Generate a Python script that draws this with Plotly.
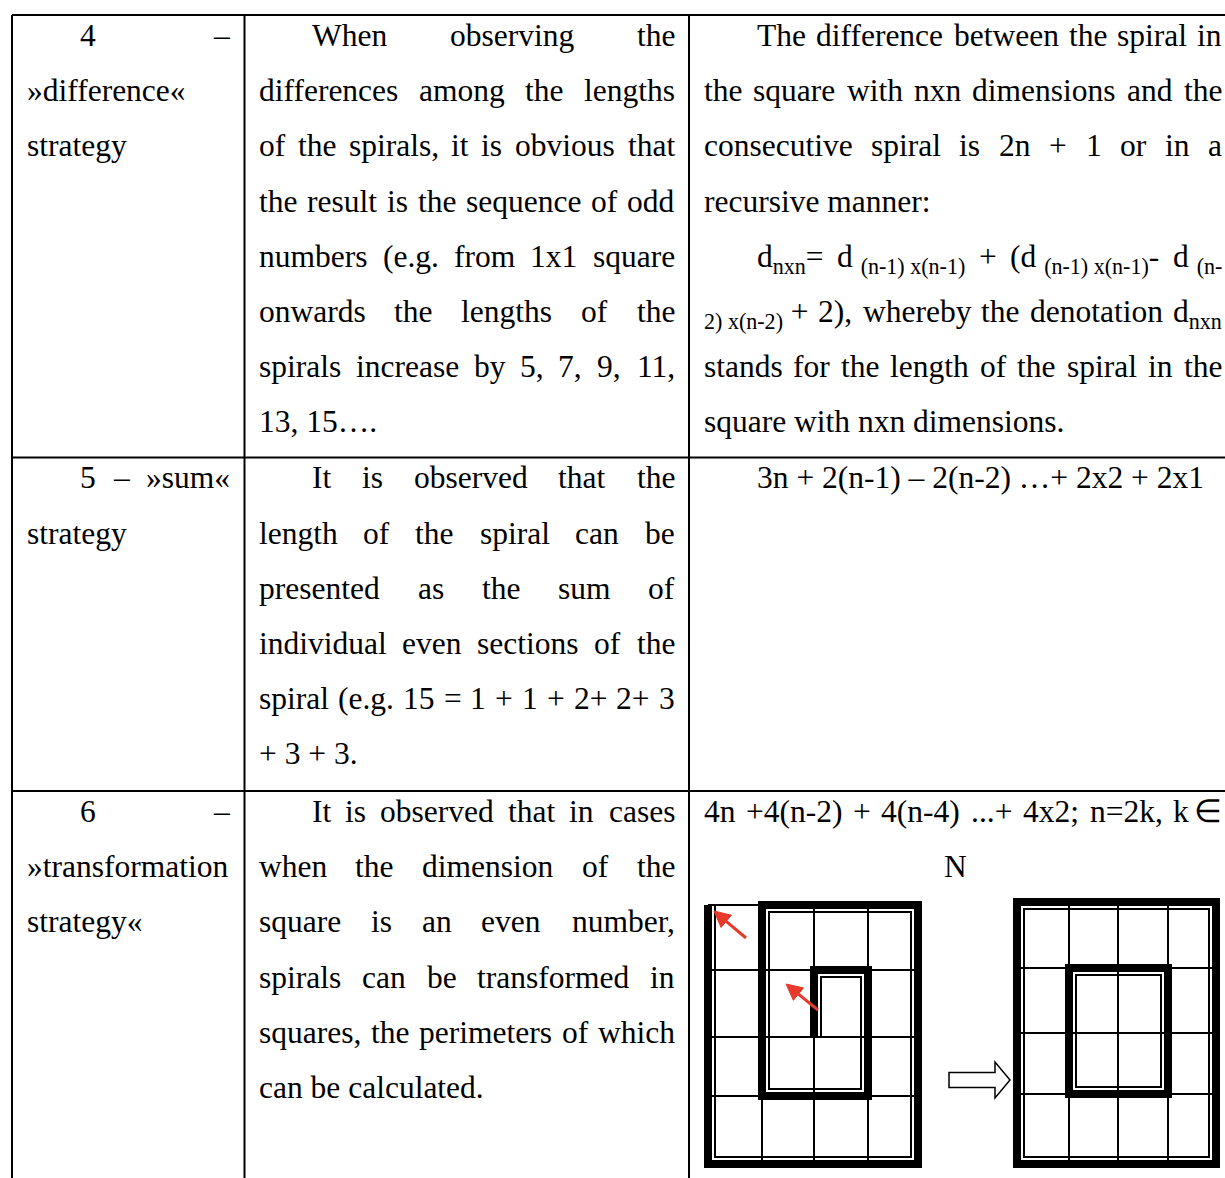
import math
import re
import plotly.graph_objects as go

FONT = "Liberation Serif"
FS = 31.5

# table geometry (page pixels)
COL_X = [12, 244.5, 689, 1236.5]
ROW_Y = [15, 457.5, 791, 1240]
PAD = 14.5
INDENT = 53
FIRST_BASE = 31
LINE_STEP = 55.2

# cell texts: one list of paragraphs per cell, each paragraph a list of lines
ROW1_C1 = [["4 –", "»difference«", "strategy"]]
ROW1_C2 = [[
    "When observing the",
    "differences among the lengths",
    "of the spirals, it is obvious that",
    "the result is the sequence of odd",
    "numbers (e.g. from 1x1 square",
    "onwards the lengths of the",
    "spirals increase by 5, 7, 9, 11,",
    "13, 15….",
]]
ROW1_C3 = [
    [
        "The difference between the spiral in",
        "the square with nxn dimensions and the",
        "consecutive spiral is 2n + 1 or in a",
        "recursive manner:",
    ],
    [
        "d<sub>nxn</sub>= d\u00a0<sub>(n-1) x(n-1)</sub> + (d\u00a0<sub>(n-1) x(n-1)</sub>- d\u00a0<sub>(n-</sub>",
        "<sub>2) x(n-2)</sub>\u00a0+ 2), whereby the denotation d<sub>nxn</sub>",
        "stands for the length of the spiral in the",
        "square with nxn dimensions.",
    ],
]
ROW2_C1 = [["5 – »sum«", "strategy"]]
ROW2_C2 = [[
    "It is observed that the",
    "length of the spiral can be",
    "presented as the sum of",
    "individual even sections of the",
    "spiral (e.g. 15 = 1 + 1 + 2+ 2+ 3",
    "+ 3 + 3.",
]]
ROW2_C3 = [["3n + 2(n-1) – 2(n-2) …+ 2x2 + 2x1"]]
ROW3_C1 = [["6 –", "»transformation", "strategy«"]]
ROW3_C2 = [[
    "It is observed that in cases",
    "when the dimension of the",
    "square is an even number,",
    "spirals can be transformed in",
    "squares, the perimeters of which",
    "can be calculated.",
]]
ROW3_C3 = [["4n +4(n-2) + 4(n-4) ...+ 4x2; n=2k, k ∈", "N"]]

CELLS = [
    [ROW1_C1, ROW1_C2, ROW1_C3],
    [ROW2_C1, ROW2_C2, ROW2_C3],
    [ROW3_C1, ROW3_C2, ROW3_C3],
]

# diagrams: 4x4 grids, grid line positions in pixels
D1_COLS = [708, 762, 814, 868, 918]
D1_ROWS = [905, 970, 1037, 1096, 1164]
D1_SPIRAL = [(0, 0), (0, 4), (4, 4), (4, 0), (1, 0), (1, 3), (3, 3), (3, 1), (2, 1), (2, 2)]
D2_COLS = [1017, 1069, 1118, 1168, 1216]
D2_ROWS = [902, 968, 1033, 1094, 1164]
D2_RINGS = [(0, 0, 4, 4), (1, 1, 3, 3)]
RED_ARROWS = [((746, 938), (714, 911)), ((818, 1010), (786, 984))]

# Times / Liberation Serif advance widths (1/1000 em)
W = dict(zip("abcdefghijklmnopqrstuvwxyz",
             [444, 500, 444, 500, 444, 333, 500, 500, 278, 278, 500, 278, 778,
              500, 500, 500, 500, 333, 389, 278, 500, 500, 722, 500, 500, 444]))
W.update({"T": 611, "W": 944, "I": 333, "N": 722, " ": 250, "\u00a0": 250,
          "(": 333, ")": 333, ",": 250, ".": 250, ";": 278, ":": 278, "-": 333,
          "+": 564, "=": 564, "–": 500, "…": 1000, "«": 500, "»": 500, "∈": 713})
for d in "0123456789":
    W[d] = 500


def text_width(s):
    w = 0
    for part in re.split(r"(<sub>.*?</sub>)", s):
        scale = 1.0
        if part.startswith("<sub>"):
            part = part[5:-6]
            scale = 0.7
        w += scale * sum(W.get(c, 500) for c in part) / 1000 * FS
    return w


def word(fig, text, x, base, anchor="left"):
    fig.add_annotation(
        x=x, y=base - 0.891 * FS, text=text, showarrow=False,
        xanchor=anchor, yanchor="top", borderpad=0, borderwidth=0,
        font=dict(family=FONT, size=FS, color="black"),
    )


fig = go.Figure(go.Scatter(x=[], y=[]))

for r, row in enumerate(CELLS):
    for c, paras in enumerate(row):
        x0 = COL_X[c] + PAD
        x1 = COL_X[c + 1] - PAD
        base = ROW_Y[r] + FIRST_BASE
        centered = r == 2 and c == 2
        for lines in paras:
            for i, line in enumerate(lines):
                xs = x0 + (INDENT if i == 0 and not centered else 0)
                toks = re.findall(r"(?:<sub>.*?</sub>|[^ ])+", line)
                last = i == len(lines) - 1
                if last and centered:
                    word(fig, line, (x0 + x1) / 2 - 7, base, "center")
                elif last or len(toks) == 1:
                    word(fig, line, xs, base)
                else:
                    widths = [text_width(t) for t in toks]
                    gap = (x1 - xs - sum(widths)) / (len(toks) - 1)
                    xp = xs
                    for t, w in zip(toks[:-1], widths):
                        word(fig, t, xp, base)
                        xp += w + gap
                    word(fig, toks[-1], x1, base, "right")
                base += LINE_STEP

# table rules
for x in COL_X:
    fig.add_shape(type="line", x0=x, x1=x, y0=ROW_Y[0], y1=ROW_Y[-1],
                  line=dict(color="black", width=2))
for y in ROW_Y[:-1]:
    fig.add_shape(type="line", x0=COL_X[0], x1=COL_X[-1], y0=y, y1=y,
                  line=dict(color="black", width=2))


def grid(fig, cols, rows):
    for x in cols:
        fig.add_shape(type="line", x0=x, x1=x, y0=rows[0], y1=rows[-1],
                      line=dict(color="black", width=2))
    for y in rows:
        fig.add_shape(type="line", x0=cols[0], x1=cols[-1], y0=y, y1=y,
                      line=dict(color="black", width=2))


# diagram 1: spiral in a 4x4 square, thick stroke plus a thin inner line
grid(fig, D1_COLS, D1_ROWS)
pts = [(D1_COLS[i], D1_ROWS[j]) for i, j in D1_SPIRAL]
fig.add_shape(type="path", path="M " + " L ".join(f"{x},{y}" for x, y in pts),
              line=dict(color="black", width=8))
inner = []
for k, (x, y) in enumerate(pts):
    segs = []
    if k > 0:
        segs.append((pts[k - 1], pts[k]))
    if k < len(pts) - 1:
        segs.append((pts[k], pts[k + 1]))
    ox = oy = 0
    for a, b in segs:
        dx, dy = b[0] - a[0], b[1] - a[1]
        n = math.hypot(dx, dy)
        ox += dy / n * 7
        oy += -dx / n * 7
    inner.append((x + ox, y + oy))
fig.add_shape(type="path", path="M " + " L ".join(f"{x},{y}" for x, y in inner),
              line=dict(color="black", width=2))

# diagram 2: transformed into squares
grid(fig, D2_COLS, D2_ROWS)
for a, b, c2, d in D2_RINGS:
    fig.add_shape(type="rect", x0=D2_COLS[a], x1=D2_COLS[c2], y0=D2_ROWS[b], y1=D2_ROWS[d],
                  line=dict(color="black", width=8))
    fig.add_shape(type="rect", x0=D2_COLS[a] + 7, x1=D2_COLS[c2] - 7,
                  y0=D2_ROWS[b] + 7, y1=D2_ROWS[d] - 7,
                  line=dict(color="black", width=2))

# outlined block arrow between the diagrams
ax0, ax1, ax2, ay, sh, hh = 949, 995, 1010, 1080, 7.5, 18
fig.add_shape(
    type="path",
    path=(f"M {ax0},{ay - sh} L {ax1},{ay - sh} L {ax1},{ay - hh} L {ax2},{ay} "
          f"L {ax1},{ay + hh} L {ax1},{ay + sh} L {ax0},{ay + sh} Z"),
    line=dict(color="black", width=1.5), fillcolor="white",
)

# red arrows in diagram 1
for (tx, ty), (hx, hy) in RED_ARROWS:
    dx, dy = hx - tx, hy - ty
    n = math.hypot(dx, dy)
    ux, uy = dx / n, dy / n
    bx, by = hx - ux * 16, hy - uy * 16
    fig.add_shape(type="line", x0=tx, y0=ty, x1=bx, y1=by,
                  line=dict(color="#e8392a", width=3))
    fig.add_shape(
        type="path",
        path=(f"M {hx},{hy} L {bx + uy * 8},{by - ux * 8} "
              f"L {bx - uy * 8},{by + ux * 8} Z"),
        line=dict(color="#e8392a", width=1), fillcolor="#e8392a",
    )

fig.update_layout(
    width=1225, height=1178,
    margin=dict(l=0, r=0, t=0, b=0),
    paper_bgcolor="white", plot_bgcolor="white",
    showlegend=False,
    xaxis=dict(range=[0, 1225], visible=False, fixedrange=True),
    yaxis=dict(range=[1178, 0], visible=False, fixedrange=True),
)

# drop the page's default body margin so the figure fills the window exactly
fig.write_html("out.html", config={"displayModeBar": False},
               post_script="document.body.style.margin='0';")
